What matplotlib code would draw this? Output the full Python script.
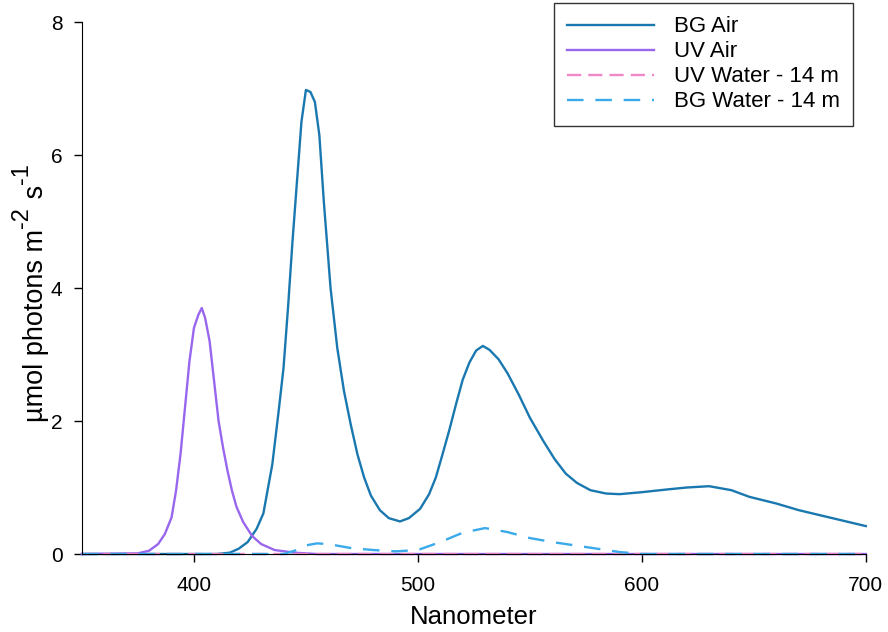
import matplotlib.pyplot as plt

plt.rcParams['font.family'] = ['Liberation Sans', 'DejaVu Sans']

# BG Air spectrum
bg_air_nm = [350, 400, 410, 416, 420, 424, 428, 431, 435, 438, 440, 442, 444, 446, 448,
             450, 452, 454, 456, 458, 461, 464, 467, 470, 473, 476, 479, 483, 487, 492,
             496, 501, 505, 508, 511, 514, 517, 520, 523, 526, 529, 532, 536, 540, 545,
             550, 556, 561, 566, 571, 577, 584, 590, 600, 611, 620, 630, 640, 648, 660,
             670, 685, 700]
bg_air = [0, 0, 0, 0.02, 0.08, 0.18, 0.38, 0.61, 1.35, 2.2, 2.8, 3.7, 4.7, 5.6, 6.5,
          6.98, 6.95, 6.8, 6.3, 5.3, 4.0, 3.1, 2.45, 1.95, 1.5, 1.15, 0.88, 0.66, 0.54, 0.49,
          0.54, 0.68, 0.9, 1.15, 1.5, 1.86, 2.25, 2.62, 2.88, 3.06, 3.13, 3.07, 2.93, 2.72, 2.4,
          2.05, 1.7, 1.43, 1.21, 1.07, 0.96, 0.91, 0.9, 0.93, 0.97, 1.0, 1.02, 0.96, 0.86, 0.76,
          0.66, 0.54, 0.42]

# UV Air spectrum
uv_air_nm = [350, 375, 380, 384, 387, 390, 392, 394, 396, 398, 400, 402, 403.5, 405, 407,
             409, 411, 413, 415, 417, 419, 422, 426, 430, 436, 445, 455, 700]
uv_air = [0, 0.01, 0.05, 0.15, 0.3, 0.55, 0.95, 1.5, 2.2, 2.9, 3.4, 3.6, 3.7, 3.55, 3.2,
          2.6, 2.0, 1.6, 1.25, 0.95, 0.71, 0.48, 0.27, 0.15, 0.06, 0.02, 0, 0]

# UV Water - 14 m
uv_water_nm = [350, 400, 450, 500, 550, 600, 650, 700]
uv_water = [0, 0, 0, 0, 0, 0, 0, 0]

# BG Water - 14 m
bg_water_nm = [350, 440, 445, 450, 455, 460, 470, 480, 490, 500, 510, 520, 530, 540, 550,
               560, 570, 580, 590, 600, 700]
bg_water = [0, 0, 0.05, 0.13, 0.16, 0.15, 0.09, 0.06, 0.04, 0.06, 0.18, 0.32, 0.39, 0.33, 0.24,
            0.18, 0.13, 0.08, 0.03, 0, 0]

# y label pieces: (text, fontsize, raised?)
ylabel_parts = [('µmol photons m', 19.5, False), ('-2', 17, True),
                (' s', 19.5, False), ('-1', 17, True)]

fig = plt.figure(figsize=(8.88, 6.32), dpi=100)
ax = fig.add_axes([0.0923, 0.1234, 0.8827, 0.8416])

ax.plot(bg_air_nm, bg_air, color='#1a78b0', lw=1.7, label='BG Air', clip_on=False)
ax.plot(uv_air_nm, uv_air, color='#9966ee', lw=1.7, label='UV Air', clip_on=False)
ax.plot(uv_water_nm, uv_water, color='#f088c8', lw=1.7, dashes=(6, 3),
        label='UV Water - 14 m', clip_on=False)
ax.plot(bg_water_nm, bg_water, color='#3aaaea', lw=1.7, dashes=(7, 5),
        label='BG Water - 14 m', clip_on=False)

ax.set_xlim(350, 700)
ax.set_ylim(0, 8)
ax.set_xticks([400, 500, 600, 700])
ax.set_yticks([0, 2, 4, 6, 8])
ax.tick_params(direction='out', length=6, width=1, labelsize=15)
ax.tick_params(axis='x', pad=10)
ax.tick_params(axis='y', pad=8)
for s in ['top', 'right']:
    ax.spines[s].set_visible(False)

ax.set_xlabel('Nanometer', fontsize=18.5, labelpad=7)

leg = ax.legend(loc='upper right', bbox_to_anchor=(853 / 888, 1 - 3 / 632),
                bbox_transform=fig.transFigure, fontsize=16, frameon=True,
                fancybox=False, handlelength=3.9, labelspacing=0.18,
                borderpad=0.6, handletextpad=0.9, borderaxespad=0)
leg.get_frame().set_edgecolor('black')
leg.get_frame().set_linewidth(1.0)

# y label built from pieces so the superscripts keep a larger size
fig.canvas.draw()
renderer = fig.canvas.get_renderer()
W, H = 888, 632
x_base = 43
y_pos = H - 422
for txt, size, raised in ylabel_parts:
    x = x_base - 15 if raised else x_base
    t = fig.text(x / W, y_pos / H, txt, rotation=90, rotation_mode='anchor',
                 ha='left', va='baseline', fontsize=size)
    y_pos += t.get_window_extent(renderer).height + 1

plt.savefig('out.png', dpi=100)
